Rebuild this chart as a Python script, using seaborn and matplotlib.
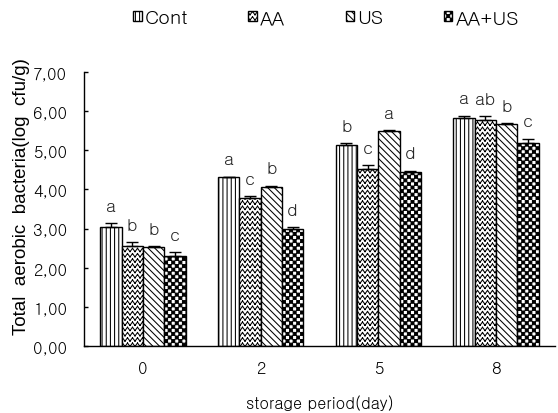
import numpy as np
import pandas as pd
import matplotlib
matplotlib.use("Agg")
import matplotlib.pyplot as plt
import matplotlib.hatch as mhatch
from matplotlib.path import Path
from matplotlib.ticker import FuncFormatter, FixedLocator
import seaborn as sns

# ---------------- data ----------------
days = ["0", "2", "5", "8"]
treatments = ["Cont", "AA", "US", "AA+US"]
cont_vals = [3.04, 4.31, 5.14, 5.83]
aa_vals = [2.56, 3.78, 4.52, 5.77]
us_vals = [2.53, 4.06, 5.50, 5.66]
aaus_vals = [2.30, 3.00, 4.44, 5.19]
cont_err = [0.09, 0.01, 0.04, 0.05]
aa_err = [0.09, 0.04, 0.10, 0.10]
us_err = [0.02, 0.04, 0.01, 0.03]
aaus_err = [0.09, 0.03, 0.04, 0.11]
cont_sig = ["a", "a", "b", "a"]
aa_sig = ["b", "c", "c", "ab"]
us_sig = ["b", "b", "a", "b"]
aaus_sig = ["c", "d", "d", "c"]
y_ticks = [0, 1, 2, 3, 4, 5, 6, 7]

# ---------------- custom hatches ----------------
class ZigZagHatch(mhatch.HatchPatternBase):
    def __init__(self, hatch, density):
        n = hatch.count('O')
        self.rows = 19 if n else 0
        self.periods = 20
        self.amp = 0.017
        self.num_vertices = self.rows * self.periods * 2 * 2

    def set_vertices_and_codes(self, vertices, codes):
        k = 0
        for r in range(self.rows):
            y0 = (r + 0.5) / self.rows
            for p in range(self.periods * 2):
                x1 = p / (2 * self.periods)
                x2 = (p + 1) / (2 * self.periods)
                ya = y0 - self.amp if p % 2 == 0 else y0 + self.amp
                yb = y0 + self.amp if p % 2 == 0 else y0 - self.amp
                vertices[k] = (x1, ya)
                vertices[k + 1] = (x2, yb)
                codes[k] = Path.MOVETO
                codes[k + 1] = Path.LINETO
                k += 2


class CheckerHatch(mhatch.HatchPatternBase):
    def __init__(self, hatch, density):
        n = hatch.count('*')
        self.cells = 28 if n else 0
        self.num_vertices = (self.cells * self.cells // 2) * 5

    def set_vertices_and_codes(self, vertices, codes):
        c = self.cells
        s = 1.0 / c
        ins = 0.003
        k = 0
        for i in range(c):
            for j in range(c):
                if (i + j) % 2 == 0:
                    x0, y0 = i * s + ins, j * s + ins
                    x1, y1 = (i + 1) * s - ins, (j + 1) * s - ins
                    vertices[k:k + 5] = [(x0, y0), (x1, y0), (x1, y1), (x0, y1), (x0, y0)]
                    codes[k:k + 5] = [Path.MOVETO, Path.LINETO, Path.LINETO,
                                      Path.LINETO, Path.CLOSEPOLY]
                    k += 5


mhatch._hatch_types = [t for t in mhatch._hatch_types
                       if t.__name__ not in ("LargeCircles", "Stars")]
mhatch._hatch_types += [ZigZagHatch, CheckerHatch]

# ---------------- frame ----------------
vals = [cont_vals, aa_vals, us_vals, aaus_vals]
errs = [cont_err, aa_err, us_err, aaus_err]
sigs = [cont_sig, aa_sig, us_sig, aaus_sig]
df = pd.DataFrame({
    "day": [d for _ in treatments for d in days],
    "treatment": [t for t in treatments for _ in days],
    "value": [v for vs in vals for v in vs],
})

sns.set_theme(style="white")
plt.rcParams["hatch.linewidth"] = 0.75
narrow = ["Gulim", "DejaVu Sans"]
wide = ["Liberation Sans", "DejaVu Sans"]

fig = plt.figure(figsize=(5.58, 4.14), dpi=100)
ax = fig.add_axes([84 / 558, 1 - 347 / 414, 471 / 558, 274 / 414])

sns.barplot(data=df, x="day", y="value", hue="treatment", order=days,
            hue_order=treatments, palette=["white"] * 4, edgecolor="black",
            linewidth=1.0, width=0.725, errorbar=None, legend=False, ax=ax,
            saturation=1)

hatches = ["||||", "O", "\\" * 5, "*"]
for cont, h in zip(ax.containers, hatches):
    for p in cont:
        p.set_hatch(h)
        p.set_facecolor("white")
        p.set_edgecolor("black")

for cont, e, s in zip(ax.containers, errs, sigs):
    xs = [p.get_x() + p.get_width() / 2 for p in cont]
    ys = [p.get_height() for p in cont]
    ax.errorbar(xs, ys, yerr=[np.zeros(len(e)), e], fmt="none", ecolor="black",
                elinewidth=1.0, capsize=4.5, capthick=1.0)
    for x, y, ee, lab in zip(xs, ys, e, s):
        ax.annotate(lab, (x, y + ee), xytext=(0, 9), textcoords="offset points",
                    ha="center", va="baseline", fontsize=12.5, family=narrow)

ax.set_ylim(0, 7)
ax.set_xlim(-0.5, 3.5)
ax.set_yticks(y_ticks)
ax.yaxis.set_major_formatter(FuncFormatter(lambda v, _: f"{v:.2f}".replace(".", ",")))
ax.xaxis.set_major_locator(FixedLocator([0.5, 1.5, 2.5, 3.5]))
ax.xaxis.set_minor_locator(FixedLocator([0, 1, 2, 3]))
ax.set_xticklabels([], minor=False)
ax.set_xticklabels(days, minor=True)
ax.tick_params(axis="x", which="major", direction="in", length=3, width=1, color="black")
ax.tick_params(axis="x", which="minor", length=0, pad=11, labelsize=12)
ax.tick_params(axis="y", direction="in", length=3, width=1, color="black",
               pad=12, labelsize=12, left=True)
for lab in ax.get_xticklabels(minor=True) + ax.get_yticklabels():
    lab.set_family(narrow)
    lab.set_color("black")

for side in ["top", "right"]:
    ax.spines[side].set_visible(False)
for side in ["left", "bottom"]:
    ax.spines[side].set_color("black")
    ax.spines[side].set_linewidth(1.0)

ax.set_xlabel("storage period(day)", fontsize=11.5, family=narrow, color="black")
ax.xaxis.set_label_coords(0.5, (347 - 395) / 274, transform=ax.transAxes)
ax.set_ylabel("Total  aerobic  bacteria(log  cfu/g)", fontsize=13.5, family=wide,
              color="black")
ax.yaxis.set_label_coords(-0.115, 0.55)

leg = ax.legend(ax.containers, treatments, loc="center", bbox_to_anchor=(326 / 558, 1 - 19 / 414),
                bbox_transform=fig.transFigure, ncol=4, frameon=False,
                prop={"family": narrow, "size": 14}, handlelength=0.45,
                handleheight=0.45, handletextpad=0.15, columnspacing=3.1,
                borderpad=0, borderaxespad=0)
for t in leg.get_texts():
    t.set_color("black")

fig.savefig("out.png", dpi=100, facecolor="white")
